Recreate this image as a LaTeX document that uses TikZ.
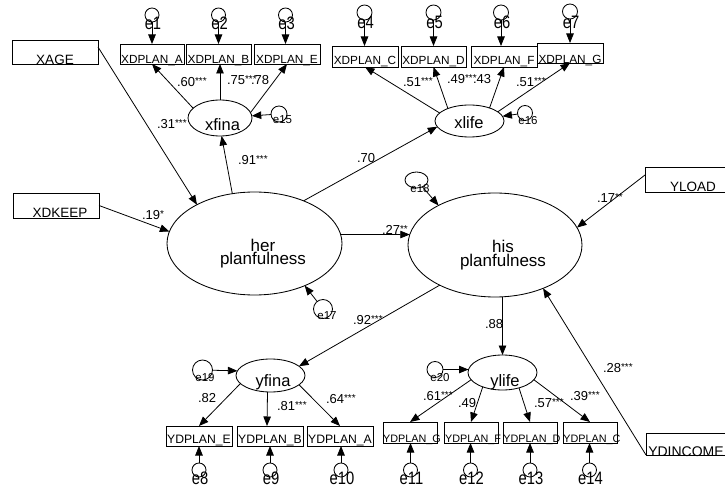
\documentclass[tikz,border=0pt]{standalone}
\usepackage{fontspec}
\setmainfont{Liberation Sans}
\usetikzlibrary{shapes.geometric,arrows.meta}
\newcommand{\fs}[1]{\fontsize{#1}{#1}\selectfont}
\newcommand{\elab}[1]{\scalebox{0.82}[1]{#1}}
\newcommand{\stars}[1]{\raisebox{2pt}{\fs{10}#1}}
\begin{document}
\begin{tikzpicture}[x=1pt,y=-1pt,
  every node/.style={inner sep=0pt, outer sep=0pt},
  obs/.style={draw, rectangle, line width=0.9pt},
  lat/.style={draw, ellipse, line width=0.85pt},
  err/.style={draw, circle, line width=0.85pt},
  arr/.style={line width=0.8pt, -{Triangle[length=9.5pt,width=7.5pt]}},
  wt/.style={font=\fs{13}, anchor=base west},
  bigtxt/.style={font=\fs{13.5}, anchor=base},
  xtxt/.style={font=\fs{11.8}, anchor=base},
  ytxt/.style={font=\fs{12.2}, anchor=base},
  ztxt/.style={font=\fs{10.8}, anchor=base},
  lattxt/.style={font=\fs{16.5}, anchor=base},
  etxt/.style={font=\fs{18}},
  smtxt/.style={font=\fs{11.5}}
]
\useasboundingbox (0,0) rectangle (725,489);
\clip (0,0) rectangle (725,489);

% exogenous boxes
\node[obs, minimum width=86pt, minimum height=24pt] (XAGE) at (55,52) {};
\node[bigtxt] (XAGEt) at (55,64.5) {XAGE};
\node[obs, minimum width=86pt, minimum height=25pt] (XDKEEP) at (56,205.5) {};
\node[bigtxt] (XDKEEPt) at (60,218) {XDKEEP};
\node[obs, minimum width=86pt, minimum height=25pt] (YLOAD) at (688,179.5) {};
\node[bigtxt] (YLOADt) at (693,192) {YLOAD};
\node[obs, minimum width=86pt, minimum height=22pt] (YDINCOME) at (689,444) {};
\node[font=\fs{14}, anchor=base] (YDINCOMEt) at (686,456) {YDINCOME};

% top indicators
\node[obs, minimum width=64pt, minimum height=20pt] (XDPLAN_A) at (152,54) {};
\node[xtxt] (XDPLAN_At) at (152,63.3) {XDPLAN\_A};
\node[obs, minimum width=65pt, minimum height=20pt] (XDPLAN_B) at (218.5,54) {};
\node[xtxt] (XDPLAN_Bt) at (218.5,63.3) {XDPLAN\_B};
\node[obs, minimum width=66pt, minimum height=20pt] (XDPLAN_E) at (287,54) {};
\node[xtxt] (XDPLAN_Et) at (287,63.3) {XDPLAN\_E};
\node[obs, minimum width=66pt, minimum height=21pt] (XDPLAN_C) at (365,56.5) {};
\node[xtxt] (XDPLAN_Ct) at (365,64.3) {XDPLAN\_C};
\node[obs, minimum width=65pt, minimum height=21pt] (XDPLAN_D) at (433.5,56.5) {};
\node[xtxt] (XDPLAN_Dt) at (433.5,64.3) {XDPLAN\_D};
\node[obs, minimum width=66pt, minimum height=21pt] (XDPLAN_F) at (504,56.5) {};
\node[xtxt] (XDPLAN_Ft) at (504,64.3) {XDPLAN\_F};
\node[obs, minimum width=66pt, minimum height=20pt] (XDPLAN_G) at (570,53) {};
\node[xtxt] (XDPLAN_Gt) at (570,63.3) {XDPLAN\_G};

% bottom indicators
\node[obs, minimum width=66pt, minimum height=20pt] (YDPLAN_E) at (199,436) {};
\node[ytxt] (YDPLAN_Et) at (199,443.5) {YDPLAN\_E};
\node[obs, minimum width=66pt, minimum height=20pt] (YDPLAN_B) at (270,436) {};
\node[ytxt] (YDPLAN_Bt) at (270,443.5) {YDPLAN\_B};
\node[obs, minimum width=66pt, minimum height=20pt] (YDPLAN_A) at (340,436) {};
\node[ytxt] (YDPLAN_At) at (340,443.5) {YDPLAN\_A};
\node[obs, minimum width=54pt, minimum height=21pt] (YDPLAN_G) at (410,432.5) {};
\node[ztxt] (YDPLAN_Gt) at (412,442) {YDPLAN\_G};
\node[obs, minimum width=54pt, minimum height=21pt] (YDPLAN_F) at (471,432.5) {};
\node[ztxt] (YDPLAN_Ft) at (473,442) {YDPLAN\_F};
\node[obs, minimum width=54pt, minimum height=21pt] (YDPLAN_D) at (530,432.5) {};
\node[ztxt] (YDPLAN_Dt) at (532,442) {YDPLAN\_D};
\node[obs, minimum width=54pt, minimum height=21pt] (YDPLAN_C) at (590,432.5) {};
\node[ztxt] (YDPLAN_Ct) at (592,442) {YDPLAN\_C};

% latent variables
\node[lat, minimum width=64pt, minimum height=36pt] (xfina) at (220,118) {};
\node[lattxt] (xfinat) at (222.5,130.5) {xfina};
\node[lat, minimum width=69pt, minimum height=32pt] (xlife) at (469.5,121) {};
\node[lattxt] (xlifet) at (469,128.3) {xlife};
\node[lat, minimum width=175pt, minimum height=103pt] (her) at (254.5,243.5) {};
\node[font=\fontsize{17}{13}\selectfont, align=center] (hert) at (263,253.6) {her\\planfulness};
\node[lat, minimum width=174pt, minimum height=104pt] (his) at (495,245) {};
\node[font=\fontsize{17}{14}\selectfont, align=center] (hist) at (503,255.3) {his\\planfulness};
\node[lat, minimum width=69pt, minimum height=33pt] (yfina) at (270.5,375.5) {};
\node[lattxt] (yfinat) at (273,386.7) {yfina};
\node[lat, minimum width=69pt, minimum height=35pt] (ylife) at (502.5,372.5) {};
\node[lattxt] (ylifet) at (505,386.7) {ylife};

% error terms, top
\node[err, minimum size=14pt] (e1) at (152,15) {};
\node[etxt] (e1t) at (153,23) {\elab{e1}};
\node[err, minimum size=14pt] (e2) at (218.5,15) {};
\node[etxt] (e2t) at (219.5,23) {\elab{e2}};
\node[err, minimum size=14pt] (e3) at (285.5,15) {};
\node[etxt] (e3t) at (286.5,23) {\elab{e3}};
\node[err, minimum size=15pt] (e4) at (364.5,12.5) {};
\node[etxt] (e4t) at (365.5,22.5) {\elab{e4}};
\node[err, minimum size=15pt] (e5) at (433.5,12.5) {};
\node[etxt] (e5t) at (434.5,22.5) {\elab{e5}};
\node[err, minimum size=15pt] (e6) at (501,12.5) {};
\node[etxt] (e6t) at (502,22.5) {\elab{e6}};
\node[err, minimum size=15pt] (e7) at (570,11.5) {};
\node[etxt] (e7t) at (571,22) {\elab{e7}};

% error terms, bottom
\node[err, minimum size=14pt] (e8) at (199,470) {};
\node[etxt] (e8t) at (200,478.5) {\elab{e8}};
\node[err, minimum size=14pt] (e9) at (270,470) {};
\node[etxt] (e9t) at (271,478.5) {\elab{e9}};
\node[err, minimum size=14pt] (e10) at (341,470) {};
\node[etxt] (e10t) at (342,478.5) {\elab{e10}};
\node[err, minimum size=14pt] (e11) at (410.5,470) {};
\node[etxt] (e11t) at (411.5,478.5) {\elab{e11}};
\node[err, minimum size=14pt] (e12) at (470.5,470) {};
\node[etxt] (e12t) at (471.5,478.5) {\elab{e12}};
\node[err, minimum size=14pt] (e13) at (530,470) {};
\node[etxt] (e13t) at (531,478.5) {\elab{e13}};
\node[err, minimum size=14pt] (e14) at (589.5,470) {};
\node[etxt] (e14t) at (590.5,478.5) {\elab{e14}};

% error terms, latent
\node[err, minimum size=16pt] (e15) at (279,114) {};
\node[smtxt] (e15t) at (282.5,119.5) {e15};
\node[err, minimum size=15pt] (e16) at (525,113) {};
\node[smtxt] (e16t) at (528,121) {e16};
\node[err, minimum size=19pt] (e17) at (323,309) {};
\node[smtxt] (e17t) at (327,316) {e17};
\node[draw, ellipse, line width=0.85pt, minimum width=23pt, minimum height=16pt] (e18) at (416.5,180) {};
\node[smtxt] (e18t) at (420,189) {e18};
\node[err, minimum size=20pt] (e19) at (202.5,370) {};
\node[smtxt] (e19t) at (205,378) {e19};
\node[err, minimum size=16pt] (e20) at (435,369.5) {};
\node[smtxt] (e20t) at (440,378) {e20};

% structural paths
\draw[arr] ([yshift=-7pt]XAGE.north east) -- (her.146);
\draw[arr] (XDKEEP.east) -- (her.172);
\draw[arr] (her.114) -- (xfina.-85);
\draw[arr] (her.41) -- (xlife.190);
\draw[arr] (her.6) -- (his.173);
\draw[arr] (e18) -- (his.145);
\draw[arr] ([yshift=-8pt]YLOAD.north west) -- (his.12);
\draw[arr] (his.216) -- (yfina.18);
\draw[arr] (ylife.north |- his.south) -- (ylife.north);
\draw[arr] (YDINCOME.south west) -- (his.-42);
\draw[arr] (e17) -- (her.-40);
\draw[arr] (e15) -- (xfina);
\draw[arr] (e16) -- (xlife);
\draw[arr] (e19) -- (yfina.172);
\draw[arr] (e20) -- (ylife.175);

% measurement paths
\draw[arr] (xfina.160) -- (XDPLAN_A.south);
\draw[arr] (xfina.north) -- (xfina.north |- XDPLAN_B.south);
\draw[arr] (xfina.10) -- (XDPLAN_E.south);
\draw[arr] (xlife.165) -- (XDPLAN_C.south);
\draw[arr] (xlife.150) -- (XDPLAN_D.south);
\draw[arr] (xlife.33) -- (XDPLAN_F.south);
\draw[arr] (xlife.18) -- (XDPLAN_G.south);
\draw[arr] (yfina.195) -- (YDPLAN_E.north);
\draw[arr] ([xshift=-3pt]yfina.south) -- ([xshift=-3pt]YDPLAN_B.north);
\draw[arr] (yfina.-18) -- (YDPLAN_A.north);
\draw[arr] (ylife.193) -- (YDPLAN_G.north);
\draw[arr] (ylife.216) -- (YDPLAN_F.north);
\draw[arr] (ylife.-43) -- (YDPLAN_D.north);
\draw[arr] (ylife.-13) -- (YDPLAN_C.north);

% error paths to indicators
\draw[arr] (e1) -- (e1 |- XDPLAN_A.north);
\draw[arr] (e2) -- (e2 |- XDPLAN_B.north);
\draw[arr] (e3) -- (e3 |- XDPLAN_E.north);
\draw[arr] (e4) -- (e4 |- XDPLAN_C.north);
\draw[arr] (e5) -- (e5 |- XDPLAN_D.north);
\draw[arr] (e6) -- (e6 |- XDPLAN_F.north);
\draw[arr] (e7) -- (e7 |- XDPLAN_G.north);
\draw[arr] (e8) -- (e8 |- YDPLAN_E.south);
\draw[arr] (e9) -- (e9 |- YDPLAN_B.south);
\draw[arr] (e10) -- (e10 |- YDPLAN_A.south);
\draw[arr] (e11) -- (e11 |- YDPLAN_G.south);
\draw[arr] (e12) -- (e12 |- YDPLAN_F.south);
\draw[arr] (e13) -- (e13 |- YDPLAN_D.south);
\draw[arr] (e14) -- (e14 |- YDPLAN_C.south);

% coefficients
\node[wt] (w1) at (157,128.7) {.31\stars{***}};
\node[wt] (w2) at (142,219.7) {.19\stars{*}};
\node[wt] (w3) at (238,165) {.91\stars{***}};
\node[wt] (w4) at (357,163) {.70};
\node[wt] (w5) at (382,234.6) {.27\stars{**}};
\node[wt] (w6) at (597,202.6) {.17\stars{**}};
\node[wt] (w7) at (353,324.6) {.92\stars{***}};
\node[wt] (w8) at (485,328) {.88};
\node[wt] (w9) at (603,372) {.28\stars{***}};
\node[wt] (w10) at (198,402) {.82};
\node[wt] (w11) at (277,410) {.81\stars{***}};
\node[wt] (w12) at (326,403) {.64\stars{***}};
\node[wt] (w13) at (423,400) {.61\stars{***}};
\node[wt] (w14) at (458,407) {.49};
\node[wt] (w15) at (534,407) {.57\stars{***}};
\node[wt] (w16) at (570,400) {.39\stars{***}};
\node[wt] (w17) at (177,86.5) {.60\stars{***}};
\node[wt] (w18) at (227,84.5) {.75\stars{***}};
\node[wt] (w19) at (251,84.5) {.78};
\node[wt] (w20) at (403,87) {.51\stars{***}};
\node[wt] (w21) at (447,84) {.49\stars{***}};
\node[wt] (w22) at (473,84) {.43};
\node[wt] (w23) at (516,87) {.51\stars{***}};
\end{tikzpicture}
\end{document}
